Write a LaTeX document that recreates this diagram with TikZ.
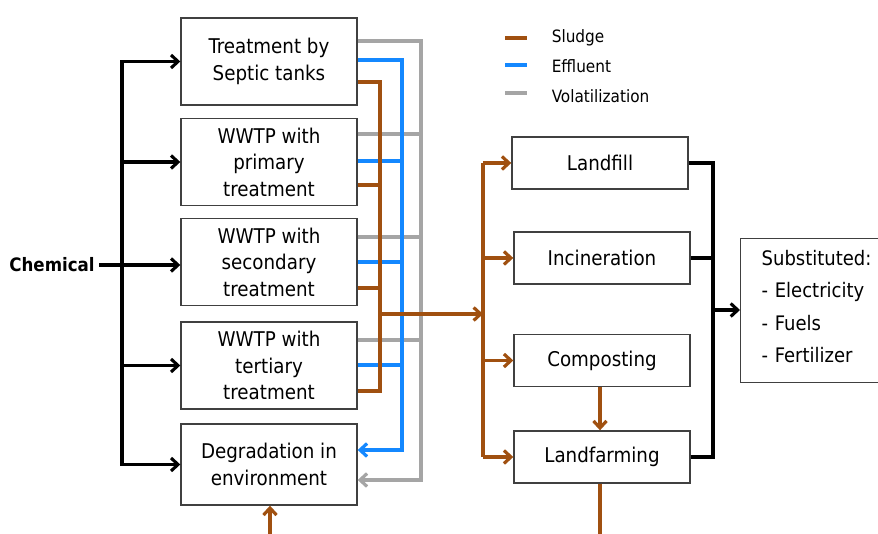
\documentclass[tikz,border=0pt]{standalone}
\usepackage{fontspec}
\setmainfont{DejaVu Sans Condensed}
\usetikzlibrary{arrows.meta,positioning}
\definecolor{sludgec}{RGB}{160,80,16}
\definecolor{effluentc}{RGB}{20,136,255}
\definecolor{volatc}{RGB}{165,165,165}

\begin{document}
\begin{tikzpicture}[x=1pt,y=-1pt,>={Straight Barb[length=7pt,width=13pt]},
	line width=3pt,
	box/.style = {draw=black!75, line width=1.4pt, fill=white, align=center,
		minimum width=176pt, minimum height=87pt, inner sep=2pt,
		font=\fontsize{20.3}{26.5}\selectfont},
	small box/.style = {box, minimum height=52pt},
	flow/.style = {color=black, line width=3.1pt},
	sludge/.style = {color=sludgec, line width=3.2pt},
	effluent/.style = {color=effluentc, line width=3.2pt},
	volat/.style = {color=volatc, line width=3.2pt}]
	\useasboundingbox (0,0) rectangle (878,534);
	
	% treatment column
	\node[box] (septic) at (269,61.5) {Treatment by\\Septic tanks};
	\node[box] (primary) at (269,162) {WWTP with\\primary\\treatment};
	\node[box] (secondary) at (269,262) {WWTP with\\secondary\\treatment};
	\node[box] (tertiary) at (269,365.5) {WWTP with\\tertiary\\treatment};
	\node[box,minimum height=81pt] (degr) at (269,464.5) {Degradation in\\environment};
	
	% sludge handling column
	\node[small box] (landfill) at (600,163) {Landfill};
	\node[small box] (incin) at (602,258) {Incineration};
	\node[small box] (compost) at (602,360.5) {Composting};
	\node[small box] (landfarm) at (602,457) {Landfarming};
	
	\node[box,anchor=north west,minimum height=0pt,text width=134pt,
		align=left,inner xsep=8pt,inner ysep=11.8pt,
		font=\fontsize{20}{32.3}\selectfont] (subst) at (740,238)
		{Substituted:\\- Electricity\\- Fuels\\- Fertilizer\rule[-8pt]{0pt}{8pt}};
	
	\node[font=\fontsize{18.5}{22}\selectfont\bfseries] (chem) at (52,265) {Chemical};
	\coordinate (split) at (122,265);
	
	% legend
	\coordinate (l1) at (505,38);
	\coordinate (l2) at (505,65);
	\coordinate (l3) at (505,93);
	\node[anchor=west,font=\fontsize{17}{20}\selectfont] (lsludge) at (547,38) {Sludge};
	\node[anchor=west,font=\fontsize{17}{20}\selectfont] (leffluent) at (547,66) {Effluent};
	\node[anchor=west,font=\fontsize{17}{20}\selectfont] (lvolat) at (547,96) {Volatilization};
	\draw[sludge] (l1) -- ++(22,0);
	\draw[effluent] (l2) -- ++(22,0);
	\draw[volat] (l3) -- ++(22,0);
	
	% chemical input
	\draw[flow] (chem) -- (split);
	\draw[flow,->] (split) -- (split -| secondary.west);
	\foreach \b in {septic,primary,tertiary,degr}
		\draw[flow,->] (split) |- (\b);
	
	% volatilization
	\coordinate (vtop) at (421,41);
	\coordinate (vbot) at (421,480);
	\draw[volat,->] (septic.east |- vtop) -- (vtop) -- (vbot) -- (degr.east |- vbot);
	\foreach \b/\y in {primary/134,secondary/237,tertiary/340}
		\draw[volat] (\b.east |- 0,\y) -- (421,\y);
	
	% effluent
	\coordinate (etop) at (402,60);
	\coordinate (ebot) at (402,450);
	\draw[effluent,->] (septic.east |- etop) -- (etop) -- (ebot) -- (degr.east |- ebot);
	\foreach \b/\y in {primary/161,secondary/262,tertiary/365}
		\draw[effluent] (\b.east |- 0,\y) -- (402,\y);
	
	% sludge
	\coordinate (stop) at (380,82);
	\coordinate (sbot) at (380,391);
	\coordinate (sout) at (380,314);
	\coordinate (sbus) at (483,314);
	\draw[sludge] (septic.east |- stop) -- (stop) -- (sbot) -- (tertiary.east |- sbot);
	\foreach \b/\y in {primary/185,secondary/288}
		\draw[sludge] (\b.east |- 0,\y) -- (380,\y);
	\draw[sludge,->] (sout) -- (sbus);
	\draw[sludge] (sbus |- landfill) -- (sbus |- landfarm);
	\foreach \b in {landfill,incin,compost,landfarm}
		\draw[sludge,->] (sbus |- \b) -- (\b);
	\draw[sludge,->] (compost.south -| 600,0) -- (landfarm.north -| 600,0);
	\coordinate (lfout) at (600,540);
	\coordinate (dgin) at (270,540);
	\draw[sludge] (landfarm.south -| lfout) -- (lfout);
	\draw[sludge,->] (dgin) -- (degr.south -| dgin);
	
	% substitution
	\coordinate (rbus) at (713,310);
	\foreach \b in {landfill,incin,landfarm}
		\draw[flow] (\b) -| (rbus);
	\draw[flow,->] (rbus) -- (subst.west |- rbus);
	
\end{tikzpicture}
\end{document}
